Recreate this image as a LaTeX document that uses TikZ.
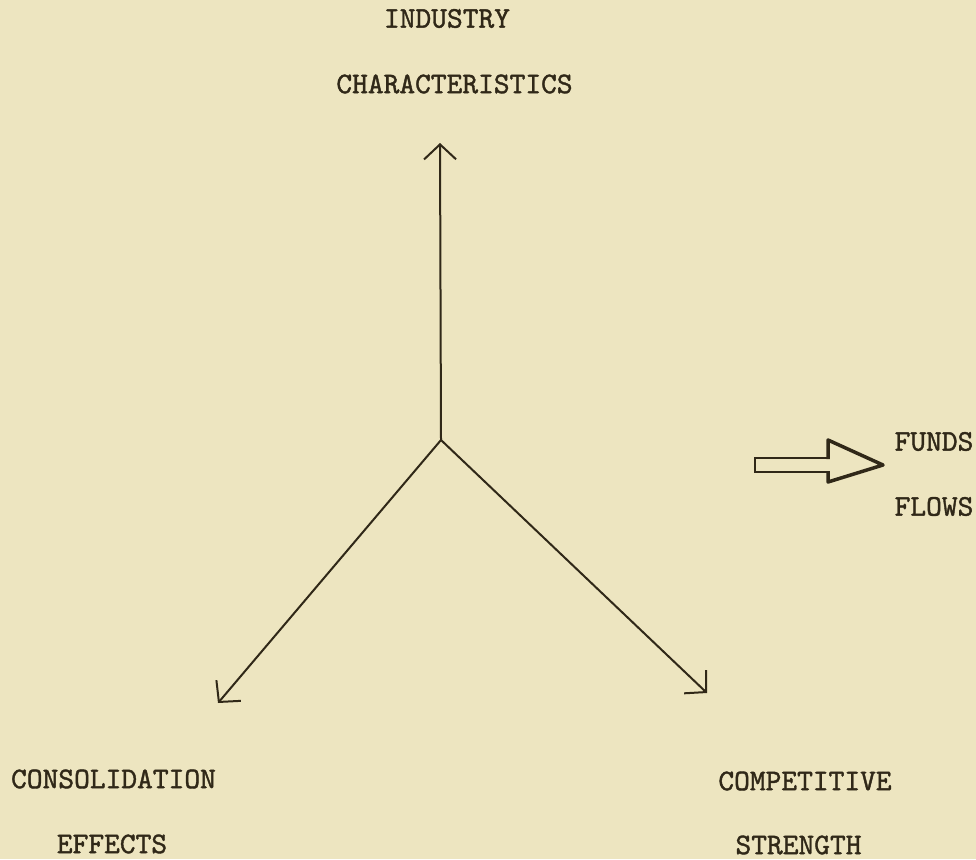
\documentclass[tikz,border=0pt]{standalone}
\usepackage{fontspec}
\newfontfamily\typew{lmmono10-regular.otf}[FakeBold=1.3]
\usetikzlibrary{arrows.meta}
\definecolor{paper}{RGB}{237,229,192}
\definecolor{ink}{RGB}{48,40,24}
\tikzset{
  lbl/.style={inner sep=0pt, text=ink, font=\typew\fontsize{30}{34}\selectfont},
  axis/.style={draw=ink, line width=2pt, -{Straight Barb[length=15pt,width=32pt,line width=2pt]}},
}
\begin{document}
\begin{tikzpicture}[x=1pt,y=-1pt]
\fill[paper] (0,0) rectangle (976,859);
\useasboundingbox (0,0) rectangle (976,859);
\node[lbl] (ind) at (447,18.5) {INDUSTRY};
\node[lbl] (char) at (454.5,84) {CHARACTERISTICS};
\node[lbl] (cons) at (113.5,779) {CONSOLIDATION};
\node[lbl] (eff) at (112,844) {EFFECTS};
\node[lbl] (comp) at (805,781) {COMPETITIVE};
\node[lbl] (str) at (798.5,845) {STRENGTH};
\node[lbl] (funds) at (934,441.5) {FUNDS};
\node[lbl] (flows) at (934,506.5) {FLOWS};
\coordinate (o) at (441,440);
\coordinate (up) at (440,143);
\coordinate (lft) at (218,703);
\coordinate (rgt) at (707,693);
\draw[axis] (o) -- (up);
\draw[axis] (o) -- (lft);
\draw[axis] (o) -- (rgt);
% funds flow arrow
\draw[ink, line width=2pt, line join=miter] (828,458) -- (755,458) -- (755,472) -- (828,472);
\draw[ink, line width=3.5pt, line join=round] (828,459) -- (828,440) -- (883,465) -- (828,482) -- (828,471);
\end{tikzpicture}
\end{document}
